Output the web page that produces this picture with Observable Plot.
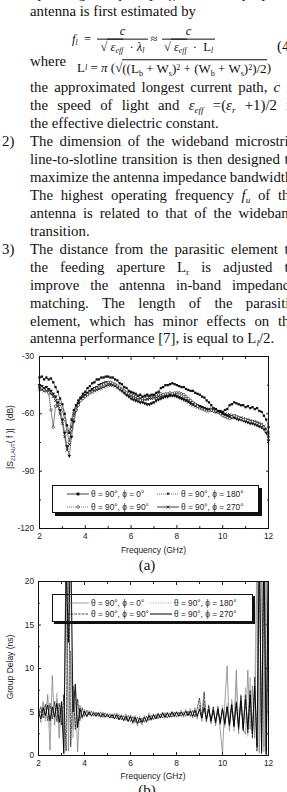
<!DOCTYPE html>
<html><head><meta charset="utf-8">
<script src="https://cdn.jsdelivr.net/npm/d3@7"></script>
<script src="https://cdn.jsdelivr.net/npm/@observablehq/plot@0.6"></script>
<style>
html,body{margin:0;padding:0;background:#fff;}
body{width:287px;height:792px;overflow:hidden;position:relative;font-family:"Liberation Serif","Times New Roman",serif;color:#111;}
.t{position:absolute;left:30px;font-size:14.8px;line-height:18px;white-space:nowrap;width:max-content;}
.n{position:absolute;left:2px;font-size:14.8px;line-height:18px;}
sub{font-size:0.62em;vertical-align:-0.3em;line-height:0}
sup{font-size:0.62em;vertical-align:0.45em;line-height:0}
.eq{position:absolute;font-size:12.5px;white-space:nowrap;display:flex;align-items:center;transform:translateY(-50%);}
.fr{display:inline-flex;flex-direction:column;align-items:center;line-height:1.15}
.fr .nu{border-bottom:0.8px solid #111;width:100%;text-align:center;padding-bottom:1px}
.cell{display:inline-block;text-align:center}
.ov{border-top:0.8px solid #111;padding-top:0.5px}
.sans{font-family:"Liberation Sans",Arial,sans-serif;color:#222;}
.ttl{position:absolute;font-size:8.5px;white-space:nowrap;transform:translate(-50%,-50%);}
.yt{position:absolute;font-size:8.5px;white-space:nowrap;transform:translate(-50%,-50%) rotate(-90deg);}
.cap{position:absolute;font-size:15px;transform:translate(-50%,-50%);}
.lg{position:absolute;box-sizing:border-box;border:1px solid #111;font-family:"Liberation Sans",Arial,sans-serif;font-size:8.3px;color:#222;}
.lg .it{position:absolute;display:flex;align-items:center;white-space:nowrap;transform:translateY(-50%);}
.lg svg{margin-right:2px;overflow:visible}
.chart{position:absolute;left:0;}
</style>
</head>
<body>
<!-- body text -->
<div class="t j" style="top:-15.6px">operating frequency <i>f<sub>l</sub></i> of the proposed</div>
<div class="t" style="top:2.4px">antenna is first estimated by</div>
<div class="eq" style="left:72px;top:39px"><span class="cell" style="width:25px;text-align:left"><i>f<sub>l</sub></i>&nbsp;&nbsp;=</span><span class="fr" style="width:51px"><span class="nu"><i>c</i></span><span>√<span class="ov">&nbsp;<i>ε</i><sub><i>eff</i></sub></span>&nbsp;&nbsp;·&nbsp;<i>λ<sub>l</sub></i></span></span><span class="cell" style="width:12px">≈</span><span class="fr" style="width:53px;margin-left:2px"><span class="nu"><i>c</i></span><span>√<span class="ov">&nbsp;<i>ε</i><sub><i>eff</i></sub></span>&nbsp;&nbsp;·&nbsp;&nbsp;L<sub><i>l</i></sub></span></span></div>
<div class="t" style="left:277px;top:37px">(4)</div>
<div class="t" style="top:52.4px">where</div>
<div class="eq" style="left:77px;top:68px;font-size:13px">L<sub><i>l</i></sub>&nbsp;=&nbsp;<i>π</i>&nbsp;(√<span class="ov">((L<sub>b</sub> + W<sub>s</sub>)<sup>2</sup> + (W<sub>b</sub> + W<sub>s</sub>)<sup>2</sup>)/2</span>)<span style="margin-left:20px">is</span></div>
<div class="t j" style="top:78.4px">the approximated longest current path, <i>c</i> is</div>
<div class="t j" style="top:96.3px">the speed of light and <i>ε<sub>eff</sub></i> =(<i>ε<sub>r</sub></i> +1)/2 is</div>
<div class="t" style="top:114.3px">the effective dielectric constant.</div>
<div class="n" style="top:132.2px">2)</div>
<div class="t j" style="top:132.2px">The dimension of the wideband microstrip</div>
<div class="t j" style="top:150.1px">line-to-slotline transition is then designed to</div>
<div class="t j" style="top:168px">maximize the antenna impedance bandwidth.</div>
<div class="t j" style="top:186px">The highest operating frequency <i>f<sub>u</sub></i> of the</div>
<div class="t j" style="top:203.9px">antenna is related to that of the wideband</div>
<div class="t" style="top:221.8px">transition.</div>
<div class="n" style="top:239.8px">3)</div>
<div class="t j" style="top:239.8px">The distance from the parasitic element to</div>
<div class="t j" style="top:257.7px">the feeding aperture L<sub>r</sub> is adjusted to</div>
<div class="t j" style="top:275.6px">improve the antenna in-band impedance</div>
<div class="t j" style="top:293.6px">matching. The length of the parasitic</div>
<div class="t j" style="top:311.5px">element, which has minor effects on the</div>
<div class="t" style="top:329.4px">antenna performance [7], is equal to L<sub><i>l</i></sub>/2.</div>

<div id="chartA" class="chart" style="top:346px"></div>
<div class="yt sans" style="left:10px;top:437px">|S<sub>21,AUT</sub>( <span>f</span> )|&nbsp;&nbsp;&nbsp;(dB)</div>
<div class="ttl sans" style="left:153.5px;top:550px">Frequency (GHz)</div>
<div class="cap" style="left:147px;top:565px">(a)</div>
<div id="legA" class="lg" style="left:52px;top:485px;width:207px;height:28px;background:#fff;box-shadow:3px 3px 0 #111"></div>

<div id="chartB" class="chart" style="top:571px"></div>
<div class="yt sans" style="left:10px;top:667px">Group Delay (ns)</div>
<div class="ttl sans" style="left:153px;top:776px">Frequency (GHz)</div>
<div class="cap" style="left:147px;top:790px">(b)</div>
<div id="legB" class="lg" style="left:52px;top:594px;width:201px;height:28px;box-shadow:2px 2px 0 #111"></div>

<script>
// ---------------- DATA ----------------
const freqStart = 2.0;   // GHz, first sample
const freqStep = 0.1;    // GHz between samples

const seriesLabels = ["θ = 90°, ϕ = 0°", "θ = 90°, ϕ = 90°", "θ = 90°, ϕ = 180°", "θ = 90°, ϕ = 270°"];

// (a) |S21,AUT(f)| in dB
const s21_phi0 = [
 -41,-40.5,-42,-41,-42,-41.5,-43.5,-46,-48.5,-52,
 -55,-60,-66,-70,-63,-58,-55.5,-53,-51.5,-49.5,
 -48.5,-46.5,-45.5,-44,-43.5,-42,-42,-41,-41,-40.5,
 -40.5,-41,-41,-42,-42.5,-44,-44.5,-46,-46.5,-48,
 -48.5,-49,-49.5,-50.5,-50,-51,-50.5,-50,-50.5,-50,
 -50,-49,-48.5,-46.5,-46,-45,-45,-44.5,-44,-44.5,
 -45,-45.5,-46,-46,-47,-47.5,-48,-48,-49,-49.5,
 -50,-51,-51.5,-53,-54,-55.5,-57,-57.5,-58.5,-58.5,
 -59,-58,-57.5,-55.5,-55,-54,-54.5,-55,-55.5,-55.5,
 -56.5,-56,-57,-56.5,-57.5,-57,-58.5,-59,-61,-63,
 -67];
const s21_phi90 = [
 -46,-46.5,-47.5,-47,-49,-58,-67,-56,-53,-55,
 -58,-63,-69,-75,-68,-62,-58,-55.5,-53,-52,
 -51,-50,-49,-48.5,-47,-46.5,-45.5,-45,-44.5,-44,
 -43.5,-43.5,-44,-44.5,-45.5,-46.5,-47,-48,-49,-49.5,
 -50,-50.5,-51,-51.5,-51,-52,-52,-51.5,-51,-50.5,
 -50.5,-50,-50,-49.5,-50,-49.5,-49.5,-49,-49.5,-49,
 -49,-49,-49.5,-50,-51,-52,-53,-54,-55,-56,
 -57,-57.5,-58,-58.5,-58.5,-58,-58.5,-58.5,-59,-60,
 -61,-61.5,-62,-62.5,-61.5,-61,-61.5,-62,-62.5,-63,
 -63,-63.5,-64,-64,-64.5,-65,-65.5,-66,-67,-69,
 -72];
const s21_phi180 = [
 -45,-45.5,-46.5,-46,-47,-48,-49.5,-51,-54,-58,
 -63,-70,-77,-82,-72,-64,-58,-54.5,-52,-51,
 -50,-49,-48,-47,-46.5,-46,-45,-44.5,-44,-43.5,
 -43.5,-44,-44.5,-45,-46,-47,-48,-49,-50,-51,
 -52,-52.5,-53,-53.5,-54,-54,-54.5,-55,-55,-54.5,
 -54,-53,-52.5,-52,-51.5,-51,-51,-50.5,-50.5,-50.5,
 -51,-51.5,-52,-52.5,-53,-53.5,-54,-54.5,-55,-55.5,
 -56,-56.5,-57,-57.5,-58,-58,-58.5,-59,-59,-59.5,
 -60,-60.5,-61,-61.5,-62,-62,-62.5,-63,-63,-63.5,
 -64,-64.5,-65,-65,-65.5,-66,-66.5,-67,-68,-70,
 -74];
const s21_phi270 = [
 -47,-47.5,-48,-48,-48.5,-49.5,-51,-53,-56,-60,
 -65,-72,-79,-76,-67,-60,-56,-53.5,-52,-51,
 -50.5,-50,-49,-48.5,-48,-47.5,-47,-46.5,-46,-45.5,
 -45,-45,-45,-45.5,-46,-46.5,-47.5,-48.5,-49.5,-50,
 -50.5,-51,-51.5,-52,-52,-52.5,-52.5,-52.5,-52,-52,
 -51.5,-51.5,-51,-51,-50.5,-50.5,-50,-50,-50,-50,
 -50.5,-51,-51.5,-52,-53,-54,-55,-55.5,-56,-56.5,
 -56.5,-57,-57,-57.5,-57.5,-57.5,-58,-58.5,-59,-59.5,
 -60,-60,-60.5,-60.5,-61,-61,-61.5,-62,-62,-62.5,
 -63,-63,-63.5,-64,-64,-64.5,-65,-65.5,-66.5,-68,
 -70];

// (b) group delay in ns
const gd_phi0 = [
 5.5,3.8,6.2,4.2,7.0,0.6,9.2,3.5,6.5,2.0,
 5.8,1.0,24,0.5,12,3.0,7.5,0.4,5.8,4.2,
 5.3,4.4,5.1,4.5,5.0,4.6,4.9,4.5,5.0,4.4,
 4.9,4.3,4.8,4.2,4.9,4.1,4.7,4.0,4.8,3.9,
 4.7,3.6,4.6,3.4,4.5,3.5,4.6,3.8,4.9,4.0,
 4.8,4.2,4.9,4.3,5.0,4.3,5.0,4.4,5.1,4.4,
 5.1,4.5,5.2,4.4,5.3,4.5,5.4,4.3,5.5,4.2,
 5.8,3.9,6.2,3.8,5.6,3.6,5.5,3.4,5.7,3.0,
 0.2,6.0,10.3,2.8,6.3,3.2,9.8,2.5,7.0,3.0,
 2.4,9.8,3.0,8.0,2.0,22,0.3,24,1.0,23,
 2.0];
const gd_phi90 = [
 4.8,5.6,4.3,5.9,4.0,6.0,4.2,6.2,3.9,6.0,
 3.5,7.0,0.5,25,1.0,8.0,3.0,6.5,4.0,5.5,
 4.5,5.2,4.6,5.1,4.5,5.0,4.5,5.0,4.4,4.9,
 4.4,4.8,4.3,4.8,4.2,4.7,4.1,4.6,4.0,4.6,
 3.9,4.5,3.8,4.4,3.7,4.3,3.8,4.5,4.0,4.6,
 4.1,4.7,4.2,4.8,4.3,4.9,4.3,4.9,4.4,5.0,
 4.4,5.0,4.5,5.0,4.5,5.1,4.5,5.2,4.4,5.4,
 6.6,4.3,7.3,4.0,5.8,3.9,5.6,3.7,5.5,3.6,
 5.3,3.5,5.6,3.4,5.9,3.3,6.2,3.0,6.8,2.8,
 7.0,2.6,7.5,2.0,9.0,0.5,23,0.2,25,0.5,
 22];
const gd_phi180 = [
 5.2,4.5,5.8,3.9,6.5,3.2,5.5,4.0,7.2,3.0,
 6.0,2.5,21,3.0,24,2.0,6.8,3.5,5.6,4.3,
 5.0,4.6,5.2,4.4,5.1,4.6,5.0,4.4,4.9,4.5,
 4.8,4.4,4.7,4.3,4.6,4.2,4.6,4.1,4.5,4.0,
 4.4,3.8,4.3,3.6,4.2,3.7,4.4,3.9,4.5,4.1,
 4.6,4.2,4.7,4.3,4.8,4.4,4.8,4.4,4.9,4.5,
 4.9,4.5,5.0,4.6,5.0,4.6,5.1,4.5,5.3,4.4,
 5.6,4.1,5.9,3.9,5.5,3.8,5.4,3.6,5.6,3.5,
 5.8,3.2,6.0,3.0,6.5,2.8,8.5,3.2,7.0,3.0,
 7.8,2.2,9.0,2.5,7.5,24,0.8,22,0.4,25,
 1.5];
const gd_phi270 = [
 5.0,4.2,5.5,4.6,5.8,4.0,5.6,4.4,6.0,3.8,
 6.2,0.2,22,13,25,5.0,8.2,3.2,5.4,4.4,
 5.1,4.5,5.0,4.6,4.9,4.5,4.9,4.4,4.8,4.4,
 4.7,4.3,4.7,4.2,4.7,4.1,4.6,4.0,4.5,3.9,
 4.5,3.8,4.4,3.7,4.3,3.8,4.4,3.9,4.6,4.1,
 4.7,4.2,4.8,4.3,4.9,4.4,4.9,4.4,5.0,4.5,
 5.0,4.5,5.0,4.6,5.1,4.6,5.1,4.5,5.2,4.5,
 5.3,4.3,5.5,4.2,5.3,4.0,5.2,3.9,5.3,3.8,
 5.4,3.7,5.6,3.6,5.8,3.4,6.0,3.3,6.3,3.1,
 6.5,3.0,7.0,2.5,8.0,1.0,25,0.5,24,0.1,
 25];

// axis ticks
const xMajor = [2, 4, 6, 8, 10, 12];
const xMinor = [3, 5, 7, 9, 11];
const yMajorA = [-120, -90, -60, -30];
const yMinorA = [-105, -75, -45];
const yMajorB = [0, 5, 10, 15, 20];
const yMinorB = [2.5, 7.5, 12.5, 17.5];

// ---------------- HELPERS ----------------
const tidy = (arr, s) => arr.map((v, i) => ({f: +(freqStart + i * freqStep).toFixed(2), v, s}));
const fmt = d => String(d);
const none = () => "";
function frameAxes(yMaj, yMin, padY) {
  return [
    Plot.axisX(xMajor, {anchor: "bottom", tickSize: -3, tickPadding: 8, tickFormat: fmt, label: null}),
    Plot.axisX(xMinor, {anchor: "bottom", tickSize: -2, tickFormat: none, label: null}),
    Plot.axisX(xMajor, {anchor: "top", tickSize: -3, tickFormat: none, label: null}),
    Plot.axisX(xMinor, {anchor: "top", tickSize: -2, tickFormat: none, label: null}),
    Plot.axisY(yMaj, {anchor: "left", tickSize: -3, tickPadding: padY, tickFormat: fmt, label: null}),
    Plot.axisY(yMin, {anchor: "left", tickSize: -2, tickFormat: none, label: null}),
    Plot.axisY(yMaj, {anchor: "right", tickSize: -3, tickFormat: none, label: null}),
    Plot.axisY(yMin, {anchor: "right", tickSize: -2, tickFormat: none, label: null}),
    Plot.frame({stroke: "#111", strokeWidth: 1})
  ];
}
const plotStyle = {fontFamily: "Liberation Sans, Arial, sans-serif", fontSize: "8.3px", color: "#222", background: "transparent", overflow: "visible"};

// ---------------- CHART A ----------------
const A0 = tidy(s21_phi0, seriesLabels[0]);
const A90 = tidy(s21_phi90, seriesLabels[1]);
const A180 = tidy(s21_phi180, seriesLabels[2]);
const A270 = tidy(s21_phi270, seriesLabels[3]);

const chartA = Plot.plot({
  width: 287, height: 212,
  marginLeft: 39, marginRight: 19, marginTop: 10, marginBottom: 30,
  style: plotStyle,
  x: {domain: [2, 12]},
  y: {domain: [-120, -30]},
  marks: [
    Plot.line(A270, {x: "f", y: "v", stroke: "#111", strokeWidth: 0.6}),
    Plot.line(A180, {x: "f", y: "v", stroke: "#111", strokeWidth: 0.6, strokeDasharray: "1,1"}),
    Plot.line(A90, {x: "f", y: "v", stroke: "#111", strokeWidth: 0.6, strokeDasharray: "1,1"}),
    Plot.line(A0, {x: "f", y: "v", stroke: "#111", strokeWidth: 0.6}),
    Plot.dot(A270, {x: "f", y: "v", symbol: "times", r: 1.5, stroke: "#111", strokeWidth: 0.7}),
    Plot.dot(A180, {x: "f", y: "v", symbol: "triangle", rotate: 180, r: 1.4, fill: "#111", stroke: "none"}),
    Plot.dot(A90, {x: "f", y: "v", symbol: "circle", r: 1.2, fill: "#fff", stroke: "#111", strokeWidth: 0.6}),
    Plot.dot(A0, {x: "f", y: "v", symbol: "square", r: 1.3, fill: "#111", stroke: "none"}),
    ...frameAxes(yMajorA, yMinorA, 8.5)
  ]
});
document.getElementById("chartA").appendChild(chartA);

// ---------------- CHART B ----------------
const B0 = tidy(gd_phi0, seriesLabels[0]);
const B90 = tidy(gd_phi90, seriesLabels[1]);
const B180 = tidy(gd_phi180, seriesLabels[2]);
const B270 = tidy(gd_phi270, seriesLabels[3]);

const chartB = Plot.plot({
  width: 287, height: 214,
  marginLeft: 38, marginRight: 19, marginTop: 10, marginBottom: 30,
  style: plotStyle,
  x: {domain: [2, 12]},
  y: {domain: [0, 20]},
  marks: [
    Plot.line(B0, {x: "f", y: "v", stroke: "#777", strokeWidth: 0.7, clip: true}),
    Plot.line(B180, {x: "f", y: "v", stroke: "#a0a0a0", strokeWidth: 0.7, strokeDasharray: "1.5,1", clip: true}),
    Plot.line(B90, {x: "f", y: "v", stroke: "#111", strokeWidth: 0.7, strokeDasharray: "2.5,1.2", clip: true}),
    Plot.line(B270, {x: "f", y: "v", stroke: "#000", strokeWidth: 0.9, clip: true}),
    ...frameAxes(yMajorB, yMinorB, 7.5)
  ]
});
document.getElementById("chartB").appendChild(chartB);

// ---------------- LEGENDS ----------------
const mk = {
  sq: '<rect x="9.6" y="1.6" width="2.8" height="2.8" fill="#111"/>',
  ci: '<circle cx="11" cy="3" r="1.3" fill="#fff" stroke="#111" stroke-width="0.6"/>',
  tr: '<path d="M9.4,1.8 L12.6,1.8 L11,4.6 Z" fill="#111"/>',
  x:  '<path d="M9.6,1.6 L12.4,4.4 M12.4,1.6 L9.6,4.4" stroke="#111" stroke-width="0.8"/>'
};
function sample(stroke, width, dash, marker) {
  return `<svg width="22" height="6" viewBox="0 0 22 6"><line x1="0" y1="3" x2="22" y2="3" stroke="${stroke}" stroke-width="${width}" ${dash ? `stroke-dasharray="${dash}"` : ""}/>${marker || ""}</svg>`;
}
function legend(el, items, rows, cols) {
  items.forEach((it, k) => {
    const d = document.createElement("div");
    d.className = "it";
    d.style.left = cols[k % 2] + "px";
    d.style.top = rows[Math.floor(k / 2)] + "px";
    d.innerHTML = it.svg + "<span>" + it.label + "</span>";
    el.appendChild(d);
  });
}
legend(document.getElementById("legA"), [
  {label: seriesLabels[0], svg: sample("#111", 0.8, null, mk.sq)},
  {label: seriesLabels[2], svg: sample("#111", 0.6, "1,1", mk.tr)},
  {label: seriesLabels[1], svg: sample("#111", 0.6, "1,1", mk.ci)},
  {label: seriesLabels[3], svg: sample("#111", 0.8, null, mk.x)}
], [7.5, 20.5], [14, 104]);
legend(document.getElementById("legB"), [
  {label: seriesLabels[0], svg: sample("#777", 0.7, null)},
  {label: seriesLabels[2], svg: sample("#a0a0a0", 0.7, "1.5,1")},
  {label: seriesLabels[1], svg: sample("#111", 0.8, "2.5,1.2")},
  {label: seriesLabels[3], svg: sample("#000", 1, null)}
], [7.5, 18.5], [14, 97]);

// ---------------- JUSTIFY TEXT LINES ----------------
const lineWidth = 266;
document.querySelectorAll(".t.j").forEach(el => {
  el.style.wordSpacing = "0px";
  const nat = el.getBoundingClientRect().width;
  const n = (el.textContent.match(/ /g) || []).length;
  if (n) el.style.wordSpacing = ((lineWidth - nat) / n) + "px";
});
</script>
</body></html>
